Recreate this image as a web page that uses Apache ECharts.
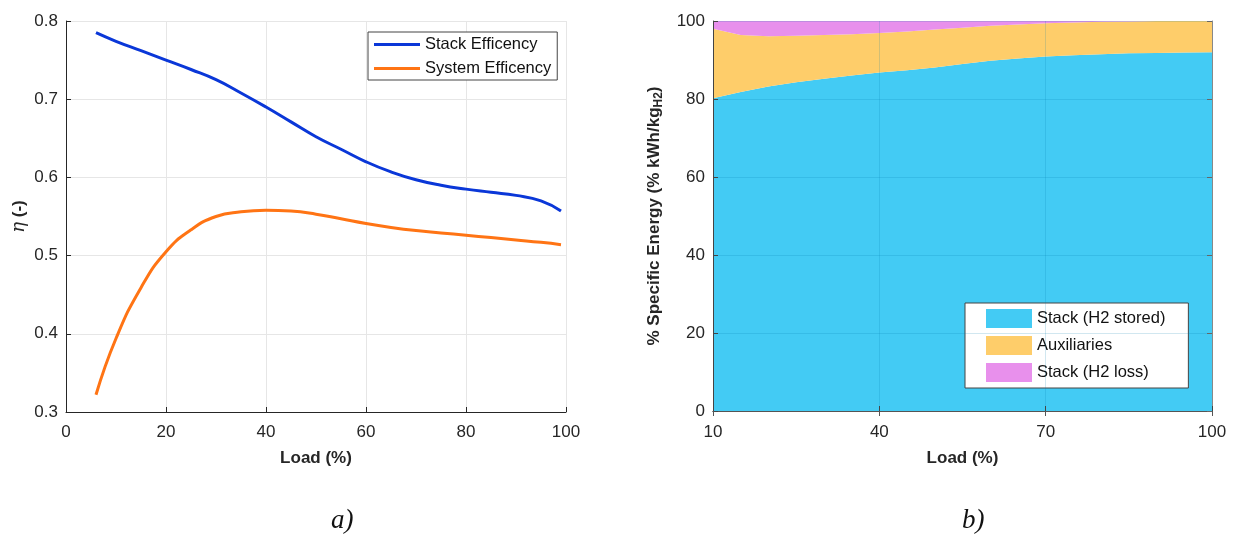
<!DOCTYPE html>
<html>
<head>
<meta charset="utf-8">
<script src="https://cdn.jsdelivr.net/npm/echarts@6/dist/echarts.min.js"></script>
<style>
  html, body { margin: 0; padding: 0; background: #fff; }
  #main { width: 1235px; height: 543px; }
</style>
</head>
<body>
<div id="main"></div>
<script>
// a) efficiency vs load
var loadA = [6, 10, 15, 20, 25, 30, 35, 40, 45, 50, 55, 60, 65, 70, 75, 80, 85, 90, 95, 99];
var stackEff = [0.785, 0.774, 0.762, 0.750, 0.738, 0.725, 0.708, 0.690, 0.671, 0.652, 0.636, 0.620, 0.607, 0.597, 0.590, 0.585, 0.581, 0.577, 0.570, 0.557];
var sysEff = [0.322, 0.394, 0.459, 0.505, 0.533, 0.550, 0.556, 0.558, 0.557, 0.553, 0.547, 0.541, 0.536, 0.532, 0.529, 0.526, 0.523, 0.520, 0.517, 0.514];

// b) specific energy split vs load
var loadB = [10, 15, 20, 25, 30, 35, 40, 45, 50, 55, 60, 65, 70, 75, 80, 85, 90, 95, 100];
var h2Stored = [80.2, 81.8, 83.2, 84.3, 85.2, 86.0, 86.8, 87.4, 88.1, 89.0, 89.8, 90.4, 90.9, 91.2, 91.5, 91.7, 91.8, 91.9, 92.0];
var auxiliaries = [17.8, 14.6, 12.9, 11.9, 11.2, 10.6, 10.1, 9.9, 9.7, 9.3, 9.0, 8.7, 8.5, 8.4, 8.3, 8.2, 8.2, 8.1, 8.0];
var h2Loss = [2.0, 3.6, 3.9, 3.8, 3.6, 3.4, 3.1, 2.7, 2.2, 1.7, 1.2, 0.9, 0.6, 0.4, 0.2, 0.1, 0.0, 0.0, 0.0];

function pairs(xs, ys) {
  return xs.map(function (x, i) { return [x, ys[i]]; });
}

var txt = '#262626';
var font = 'Liberation Sans, Arial, sans-serif';
var every30 = 5; // show every 6th category (10, 40, 70, 100)

var chart = echarts.init(document.getElementById('main'));

var option = {
  animation: false,
  backgroundColor: '#fff',
  textStyle: { fontFamily: font },
  grid: [
    { left: 66, top: 21, width: 500, height: 391 },
    { left: 713, top: 21, width: 499, height: 390 }
  ],
  legend: [
    {
      data: ['Stack Efficency', 'System Efficency'],
      orient: 'vertical',
      left: 368, top: 32,
      icon: 'rect', itemWidth: 46, itemHeight: 3, itemGap: 7,
      padding: [4, 6, 3, 6],
      backgroundColor: '#fff', borderColor: '#444', borderWidth: 1,
      textStyle: { color: '#111', fontSize: 16.5, fontFamily: font }
    },
    {
      data: ['Stack (H2 stored)', 'Auxiliaries', 'Stack (H2 loss)'],
      orient: 'vertical',
      left: 965, top: 303,
      icon: 'rect', itemWidth: 46, itemHeight: 19, itemGap: 8,
      padding: [6, 23, 6, 21],
      backgroundColor: '#fff', borderColor: '#444', borderWidth: 1,
      textStyle: { color: '#111', fontSize: 16.5, fontFamily: font }
    }
  ],
  xAxis: [
    {
      gridIndex: 0, type: 'value', min: 0, max: 100, interval: 20,
      name: 'Load (%)', nameLocation: 'middle', nameGap: 38,
      nameTextStyle: { color: txt, fontSize: 17, fontWeight: 'bold' },
      axisLine: { lineStyle: { color: '#262626', width: 1 } },
      axisTick: { inside: true, length: 5, lineStyle: { color: '#262626' } },
      axisLabel: { color: txt, fontSize: 17, margin: 12 },
      splitLine: { show: true, lineStyle: { color: '#e6e6e6' } }
    },
    {
      gridIndex: 1, type: 'category', data: loadB, boundaryGap: false, z: 5,
      name: 'Load (%)', nameLocation: 'middle', nameGap: 39,
      nameTextStyle: { color: txt, fontSize: 17, fontWeight: 'bold' },
      axisLine: { lineStyle: { color: '#444', width: 1 } },
      axisTick: { inside: true, length: 5, interval: every30, lineStyle: { color: '#444' } },
      axisLabel: { color: txt, fontSize: 17, margin: 13, interval: every30 },
      splitLine: { show: true, interval: every30, lineStyle: { color: 'rgba(0,120,170,0.18)' } }
    },
    {
      gridIndex: 1, type: 'category', data: loadB, boundaryGap: false, position: 'top', z: 5,
      axisLine: { lineStyle: { color: '#555', width: 1 } },
      axisTick: { inside: true, length: 5, interval: every30, lineStyle: { color: '#555' } },
      axisLabel: { show: false },
      splitLine: { show: false }
    }
  ],
  yAxis: [
    {
      gridIndex: 0, type: 'value', min: 0.3, max: 0.8, interval: 0.1,
      name: '{i|η} (-)', nameLocation: 'middle', nameGap: 38,
      nameTextStyle: {
        color: txt, fontSize: 17, fontWeight: 'bold',
        rich: { i: { fontStyle: 'italic', fontWeight: 'normal', fontFamily: 'DejaVu Serif, serif', fontSize: 18, color: txt } }
      },
      axisLine: { show: true, lineStyle: { color: '#262626', width: 1 } },
      axisTick: { show: true, inside: true, length: 5, lineStyle: { color: '#262626' } },
      axisLabel: { color: txt, fontSize: 17, margin: 8, formatter: function (v) { return v.toFixed(1); } },
      splitLine: { show: true, lineStyle: { color: '#e6e6e6' } }
    },
    {
      gridIndex: 1, type: 'value', min: 0, max: 100, interval: 20, z: 5,
      name: '% Specific Energy (% kWh/kg{s|H2})', nameLocation: 'middle', nameGap: 48,
      nameTextStyle: {
        color: txt, fontSize: 17, fontWeight: 'bold', lineHeight: 22,
        rich: { s: { fontSize: 12, fontWeight: 'bold', color: txt, verticalAlign: 'bottom', lineHeight: 22, padding: [8, 0, 0, 0] } }
      },
      axisLine: { show: true, lineStyle: { color: '#444', width: 1 } },
      axisTick: { show: true, inside: true, length: 5, lineStyle: { color: '#444' } },
      axisLabel: { color: txt, fontSize: 17, margin: 8 },
      splitLine: { show: true, lineStyle: { color: 'rgba(0,120,170,0.18)' } }
    },
    {
      gridIndex: 1, type: 'value', min: 0, max: 100, interval: 20, position: 'right', z: 5,
      axisLine: { show: true, lineStyle: { color: '#888', width: 1 } },
      axisTick: { show: true, inside: true, length: 5, lineStyle: { color: '#666' } },
      axisLabel: { show: false },
      splitLine: { show: false }
    }
  ],
  series: [
    {
      name: 'Stack Efficency', type: 'line', xAxisIndex: 0, yAxisIndex: 0,
      data: pairs(loadA, stackEff), smooth: true, showSymbol: false,
      color: '#0a37d8', lineStyle: { width: 3 }
    },
    {
      name: 'System Efficency', type: 'line', xAxisIndex: 0, yAxisIndex: 0,
      data: pairs(loadA, sysEff), smooth: true, showSymbol: false,
      color: '#ff7414', lineStyle: { width: 3 }
    },
    {
      name: 'Stack (H2 stored)', type: 'line', xAxisIndex: 1, yAxisIndex: 1, stack: 'e',
      data: h2Stored, showSymbol: false, z: 2,
      color: '#43cbf4', lineStyle: { width: 0 }, areaStyle: { opacity: 1 }
    },
    {
      name: 'Auxiliaries', type: 'line', xAxisIndex: 1, yAxisIndex: 1, stack: 'e',
      data: auxiliaries, showSymbol: false, z: 2,
      color: '#fecd6a', lineStyle: { width: 0 }, areaStyle: { opacity: 1 }
    },
    {
      name: 'Stack (H2 loss)', type: 'line', xAxisIndex: 1, yAxisIndex: 1, stack: 'e',
      data: h2Loss, showSymbol: false, z: 2,
      color: '#e890ec', lineStyle: { width: 0 }, areaStyle: { opacity: 1 }
    }
  ],
  graphic: [
    { type: 'text', left: 331, top: 507, style: { text: 'a)', fontSize: 27, fontStyle: 'italic', fontFamily: 'Liberation Serif, Times New Roman, serif', fill: '#111' } },
    { type: 'text', left: 962, top: 507, style: { text: 'b)', fontSize: 27, fontStyle: 'italic', fontFamily: 'Liberation Serif, Times New Roman, serif', fill: '#111' } }
  ]
};

chart.setOption(option);
</script>
</body>
</html>
